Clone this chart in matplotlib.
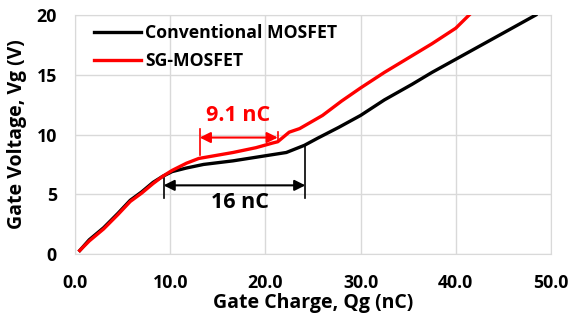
import matplotlib
matplotlib.use("Agg")
import matplotlib.pyplot as plt

plt.rcParams['font.family'] = ['Open Sans', 'DejaVu Sans']

conv_q = [0.5, 1.5, 3.0, 4.5, 5.8, 7.0, 8.2, 9.2, 10.2, 11.7, 13.5, 16.6, 19.0, 22.2, 24.1, 25.5, 27.7, 30.0, 32.5, 35.4, 37.5, 40.0, 42.5, 45.0, 48.4]
conv_v = [0.3, 1.2, 2.2, 3.4, 4.5, 5.2, 6.0, 6.5, 6.9, 7.2, 7.5, 7.8, 8.1, 8.5, 9.1, 9.7, 10.6, 11.6, 12.9, 14.2, 15.2, 16.3, 17.4, 18.5, 20.0]
sg_q = [0.5, 1.5, 3.0, 4.5, 5.8, 7.0, 8.2, 9.2, 10.2, 11.7, 13.0, 16.6, 19.0, 20.8, 21.3, 22.5, 23.6, 26.0, 28.0, 30.0, 32.5, 35.0, 37.5, 40.0, 41.4]
sg_v = [0.3, 1.1, 2.1, 3.3, 4.4, 5.1, 5.9, 6.5, 7.0, 7.6, 8.0, 8.5, 8.9, 9.3, 9.4, 10.2, 10.5, 11.6, 12.8, 13.9, 15.2, 16.4, 17.6, 18.9, 20.0]

fig = plt.figure(figsize=(5.7, 3.2), dpi=100)
ax = fig.add_axes([0.1316, 0.206, 0.835, 0.747])
ax.plot(conv_q, conv_v, color='black', lw=2.4, label='Conventional MOSFET', zorder=3)
ax.plot(sg_q, sg_v, color='#ff0000', lw=2.4, label='SG-MOSFET', zorder=4)

ax.set_xlim(0, 50)
ax.set_ylim(0, 20)
ax.set_xticks([0, 10, 20, 30, 40, 50])
ax.set_xticklabels(['0.0', '10.0', '20.0', '30.0', '40.0', '50.0'])
ax.set_yticks([0, 5, 10, 15, 20])
ax.grid(True, color='#d9d9d9', lw=1.0)
ax.set_axisbelow(True)
for s in ax.spines.values():
    s.set_color('#d9d9d9')
ax.tick_params(axis='x', length=0, labelsize=12.8, pad=14.5)
ax.tick_params(axis='y', length=0, labelsize=12.8, pad=13)
for t in ax.get_xticklabels() + ax.get_yticklabels():
    t.set_fontweight('bold')
ax.set_xlabel('Gate Charge, Qg (nC)', fontsize=14, fontweight='bold', va='center')
ax.xaxis.set_label_coords(0.5, -0.205)
ax.set_ylabel('Gate Voltage, Vg (V)', fontsize=14, fontweight='bold', va='center')
ax.yaxis.set_label_coords(-0.122, 0.5)

leg = ax.legend(loc='upper left', bbox_to_anchor=(0.021, 1.0), frameon=False, handlelength=2.7,
                handletextpad=0.2, labelspacing=0.6, borderaxespad=0.1,
                prop={'weight': 'bold', 'size': 12.7})

# red annotation
ax.plot([13.1, 13.1], [8.3, 10.5], color='#ff0000', lw=1.2)
ax.plot([21.3, 21.3], [9.4, 10.2], color='#ff0000', lw=1.2)
ax.annotate('', xy=(13.1, 9.75), xytext=(21.3, 9.75),
            arrowprops=dict(arrowstyle='<|-|>', color='#ff0000', lw=1.5, mutation_scale=16, shrinkA=0, shrinkB=0))
ax.text(17.1, 11.6, '9.1 nC', color='#ff0000', fontsize=15.5, fontweight='bold', ha='center', va='center')

# black annotation
ax.plot([9.3, 9.3], [4.7, 6.4], color='black', lw=1.2)
ax.plot([24.2, 24.2], [4.7, 9.1], color='black', lw=1.2)
ax.annotate('', xy=(9.3, 5.75), xytext=(24.2, 5.75),
            arrowprops=dict(arrowstyle='<|-|>', color='black', lw=1.5, mutation_scale=16, shrinkA=0, shrinkB=0))
ax.text(17.3, 4.3, '16 nC', color='black', fontsize=15.5, fontweight='bold', ha='center', va='center')

fig.savefig('out.png', dpi=100)
